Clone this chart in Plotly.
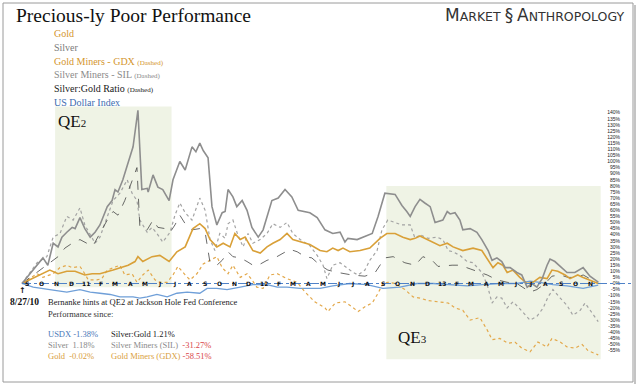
import pandas as pd
import plotly.graph_objects as go

# ---------------- data (days after 2010-08-27, % change since then) ----------------
BASE = pd.Timestamp("2010-08-27")

silver_day = [0, 43, 53, 64, 74, 82, 92, 103, 109, 119, 129, 140, 150, 160, 175, 185, 191, 197, 207, 218, 228, 238,
              246, 257, 259, 269, 279, 289, 302, 310, 324, 335, 349, 357, 365, 372, 382, 390, 400, 411, 417, 423,
              433, 441, 452, 462, 472, 485, 495, 513, 526, 540, 554, 567, 591, 606, 622, 638, 653, 663, 669, 688,
              700, 719, 731, 745, 766, 780, 790, 797, 807, 817, 827, 838, 848, 864, 873, 879, 889, 899, 905, 920,
              934, 944, 957, 965, 975, 985, 992, 1002, 1016, 1026, 1037, 1047, 1057, 1068, 1078, 1084, 1094, 1105,
              1119, 1135, 1152, 1166, 1183]
silver_pct = [0, 21, 15, 33, 30, 38, 42, 46, 45, 54, 45, 38, 42, 48, 63, 68, 77, 75, 85, 99, 112, 142,
              77, 78, 75, 89, 79, 77, 68, 85, 100, 93, 112, 108, 115, 109, 103, 63, 48, 58, 59, 77,
              71, 63, 68, 60, 46, 38, 44, 68, 70, 77, 71, 60, 58, 54, 44, 41, 42, 34, 37, 36,
              38, 41, 55, 74, 73, 64, 59, 55, 63, 69, 66, 63, 50, 52, 59, 57, 58, 52, 44, 45,
              42, 36, 27, 19, 21, 18, 13, 13, 9, 7, -3, 0, -3, 4, 15, 20, 18, 14,
              9, 9, 13, 6, 1.18]

gold_day = [0, 37, 57, 74, 92, 109, 129, 144, 160, 187, 207, 218, 232, 238, 248, 267, 283, 302, 318, 335, 351,
            365, 376, 386, 400, 413, 427, 437, 448, 458, 474, 489, 503, 515, 530, 544, 556, 575, 591, 612, 626,
            638, 649, 659, 673, 694, 714, 735, 749, 766, 782, 797, 807, 817, 827, 844, 858, 873, 885, 905, 926,
            944, 957, 967, 977, 987, 996, 1008, 1022, 1037, 1049, 1063, 1078, 1088, 1100, 1115, 1125, 1141,
            1152, 1166, 1183]
gold_pct = [0, 7, 11, 8, 10, 10, 7, 8, 8, 11, 14, 15, 18, 22, 18, 22, 23, 18, 26, 30, 45,
            49, 45, 36, 30, 33, 30, 41, 36, 38, 27, 25, 30, 33, 36, 41, 36, 34, 32, 27, 26,
            29, 27, 29, 26, 27, 29, 37, 41, 41, 38, 36, 37, 39, 37, 34, 31, 33, 30, 27, 29,
            27, 19, 13, 17, 15, 9, 11, 5, 0, 1, 5, 4, 11, 10, 7, 4, 7,
            5, 3, -0.02]

gdx_day = [0, 31, 43, 64, 78, 92, 103, 119, 129, 136, 154, 164, 175, 187, 201, 211, 226, 236, 248, 259, 273,
           283, 298, 310, 320, 335, 345, 359, 372, 386, 400, 411, 423, 433, 448, 462, 472, 482, 495, 509, 524,
           544, 565, 581, 601, 622, 628, 643, 663, 677, 690, 704, 719, 731, 741, 751, 766, 786, 803, 817, 834,
           854, 875, 889, 905, 920, 940, 955, 965, 981, 998, 1012, 1026, 1043, 1059, 1078, 1088, 1105, 1119,
           1135, 1150, 1162, 1183]
gdx_pct = [0, 8, 5, 8, 13, 15, 13, 14, 8, 3, 3, 4, 11, 13, 15, 7, 8, 1, 7, 11, 3,
           1, 1, 7, 14, 7, 3, 8, 16, 19, 22, 13, 8, 15, 5, 8, 3, -3, -4, 7, 8,
           4, 1, -7, -15, -20, -23, -16, -15, -19, -23, -19, -16, -8, 0, 1, 0, -5, -11, -12, -14,
           -15, -16, -20, -22, -30, -28, -38, -46, -45, -49, -48, -53, -56, -48, -52, -45, -48, -52,
           -53, -50, -55, -58.51]

sil_day = [0, 31, 51, 64, 78, 92, 105, 119, 129, 140, 150, 160, 175, 187, 201, 216, 226, 236, 242, 257, 267,
           277, 289, 304, 314, 324, 335, 349, 365, 376, 386, 396, 406, 417, 423, 433, 443, 454, 464, 474, 489,
           503, 515, 530, 544, 556, 571, 591, 606, 618, 626, 638, 653, 667, 680, 690, 704, 714, 729, 739, 751,
           766, 780, 797, 807, 817, 834, 852, 864, 875, 885, 899, 914, 926, 944, 955, 965, 975, 985, 996, 1008,
           1018, 1029, 1043, 1057, 1070, 1080, 1090, 1105, 1119, 1131, 1146, 1156, 1170, 1183]
sil_pct = [0, 17, 22, 38, 41, 55, 52, 62, 48, 40, 33, 38, 55, 68, 74, 85, 74, 68, 52, 42, 46,
           41, 34, 42, 56, 66, 58, 52, 70, 60, 36, 27, 41, 37, 49, 52, 40, 30, 41, 33, 36,
           41, 49, 46, 50, 41, 36, 31, 23, 15, 4, 15, 17, 13, 9, 7, 11, 19, 27, 44, 52,
           50, 48, 48, 37, 40, 37, 38, 36, 27, 26, 23, 18, 17, 9, -1, -16, -11, -12, -20, -15,
           -19, -24, -30, -27, -20, -11, -5, -12, -18, -26, -22, -16, -24, -31.27]

ratio_day = [0, 37, 57, 74, 88, 103, 119, 133, 146, 160, 175, 187, 197, 211, 226, 236, 242, 257, 269, 279, 294,
             304, 314, 324, 335, 349, 365, 376, 386, 400, 411, 423, 433, 448, 462, 474, 485, 503, 519, 536, 550,
             565, 581, 595, 612, 628, 649, 677, 704, 725, 745, 762, 786, 807, 823, 842, 854, 883, 899, 920, 940,
             955, 975, 996, 1016, 1033, 1043, 1057, 1074, 1088, 1105, 1121, 1139, 1152, 1170, 1183]
ratio_pct = [0, 11, 17, 22, 29, 33, 36, 33, 31, 41, 52, 59, 56, 68, 85, 95, 46, 44, 52, 46, 45,
             42, 48, 56, 49, 44, 45, 42, 17, 15, 19, 26, 22, 21, 18, 15, 15, 19, 21, 25, 28,
             26, 22, 21, 15, 11, 9, 7, 6, 9, 21, 22, 17, 15, 22, 19, 14, 15, 15, 12, 9,
             7, 3, 1, 0, -4, -7, -5, 0, 6, 7, 5, 5, 7, 3, 1.21]

usd_day = [0, 23, 57, 92, 119, 140, 160, 181, 201, 228, 242, 257, 277, 298, 318, 339, 365, 380, 400, 421, 448,
           474, 503, 524, 544, 571, 597, 612, 638, 673, 708, 741, 776, 811, 844, 879, 914, 946, 981, 1016, 1043,
           1063, 1090, 1119, 1152, 1183]
usd_pct = [0, -3, -5, -7, -5, -7, -8, -9, -11, -11, -12, -11, -9, -11, -8, -7, -8, -4, -4, -5, -3,
           -1, -1, -3, -3, -4, -4, -4, -2, 0, -1, -4, -3, 0, 0, -1, -2, -1, 0, 0, 2,
           1, -1, -2, -4, -1.38]

month_labels = ["S", "O", "N", "D", "11", "F", "M", "A", "M", "J", "J", "A", "S", "O", "N", "D", "12", "F", "M", "A",
                "M", "J", "J", "A", "S", "O", "N", "D", "13", "F", "M", "A", "M", "J", "J", "A", "S", "O", "N"]
month_starts = pd.date_range("2010-09-01", periods=len(month_labels), freq="MS")

ytick_vals = list(range(-55, 145, 5))
ytick_text = [f"{v}%" for v in ytick_vals]

qe2_start, qe2_end = "2010-11-03", "2011-06-30"
qe3_start, qe3_end = "2012-09-13", "2013-11-27"

legend_items = [
    ("Gold", "", "#d4962e"),
    ("Silver", "", "#7a7a7a"),
    ("Gold Miners - GDX ", "(Dashed)", "#d4962e"),
    ("Silver Miners - SIL ", "(Dashed)", "#8a8a8a"),
    ("Silver:Gold Ratio ", "(Dashed)", "#1a1a1a"),
    ("US Dollar Index", "", "#3d6cb0"),
]

# ---------------- figure ----------------
W, H = 640, 384
ML, MR = 0, 17
PW = W - ML - MR


def px(x):
    return x / PW


def py(y):
    return 1 - y / H


def dates(d):
    return BASE + pd.to_timedelta(d, unit="D")


fig = go.Figure()

GOLD = "#d9a038"
series = [
    (usd_day, usd_pct, "#6f9fd8", 1.3, "solid"),
    (gdx_day, gdx_pct, "#e3a84a", 1.2, "dot"),
    (sil_day, sil_pct, "#a3a3a3", 1.2, "dot"),
    (ratio_day, ratio_pct, "#444444", 0.8, "dash"),
    (gold_day, gold_pct, GOLD, 1.6, "solid"),
    (silver_day, silver_pct, "#8e8e8e", 1.6, "solid"),
]
for d, v, c, w, dash in series:
    fig.add_trace(go.Scatter(x=dates(d), y=v, mode="lines",
                             line=dict(color=c, width=w, dash=dash), showlegend=False,
                             hoverinfo="skip"))

shapes = []
# QE shading
shapes.append(dict(type="rect", xref="x", yref="y", x0=qe2_start, x1=qe2_end, y0=-3, y1=145,
                   fillcolor="#eff3e5", line=dict(width=0), layer="below"))
shapes.append(dict(type="rect", xref="x", yref="y", x0=qe3_start, x1=qe3_end, y0=-62, y1=80,
                   fillcolor="#eff3e5", line=dict(width=0), layer="below"))
# zero dash-dot line
shapes.append(dict(type="line", xref="paper", yref="y", x0=px(22), x1=px(632), y0=0, y1=0,
                   line=dict(color="#4f82c8", width=1, dash="dashdot"), layer="above"))
# frame
shapes.append(dict(type="rect", xref="paper", yref="paper", x0=px(3), x1=px(633), y0=py(3), y1=py(382),
                   line=dict(color="#9a9a9a", width=1), layer="above"))
shapes.append(dict(type="line", xref="paper", yref="paper", x0=px(635), x1=px(635), y0=py(5), y1=py(384),
                   line=dict(color="#c4c4c4", width=2), layer="above"))

ann = []
SERIF = "Liberation Serif"
ann.append(dict(text="Precious-ly Poor Performance", x=px(14), y=py(15), xanchor="left", yanchor="middle",
                font=dict(family=SERIF, size=19.5, color="#111111")))
for i, (main, small, col) in enumerate(legend_items):
    t = main + (f"<span style='font-size:7px'>{small}</span>" if small else "")
    ann.append(dict(text=t, x=px(52), y=py(34 + 13.6 * i), xanchor="left", yanchor="middle",
                    font=dict(family=SERIF, size=10, color=col)))
ann.append(dict(text="<span style='font-size:17px'>M</span>ARKET <span style='font-size:17px'>§</span> "
                     "<span style='font-size:17px'>A</span>NTHROPOLOGY",
                x=px(626), y=py(15), xanchor="right", yanchor="middle",
                font=dict(family="DejaVu Sans", size=12.5, color="#333333")))
ann.append(dict(text="QE<span style='font-size:11px'>2</span>", x=px(56), y=py(122), xanchor="left",
                yanchor="middle", font=dict(family=SERIF, size=17, color="#111111")))
ann.append(dict(text="QE<span style='font-size:11px'>3</span>", x=px(396), y=py(337), xanchor="left",
                yanchor="middle", font=dict(family=SERIF, size=17, color="#111111")))
# month letters along the zero line
for lab, ms in zip(month_labels, month_starts):
    ann.append(dict(text=f"<b>{lab}</b>", x=ms + pd.Timedelta(days=5), y=0, xref="x", yref="y",
                    xanchor="center", yanchor="middle", showarrow=False,
                    font=dict(family="DejaVu Sans", size=6, color="#111111")))
ann.append(dict(text="<b>↑</b>", x=px(22), y=py(290), xanchor="center", yanchor="middle",
                font=dict(family="DejaVu Sans", size=8, color="#111111")))
ann.append(dict(text="<b>8/27/10</b>", x=px(8), y=py(302), xanchor="left", yanchor="middle",
                font=dict(family=SERIF, size=9.5, color="#111111")))
ann.append(dict(text="Bernanke hints at QE2 at Jackson Hole Fed Conference", x=px(46), y=py(302),
                xanchor="left", yanchor="middle", font=dict(family=SERIF, size=8.5, color="#222222")))
ann.append(dict(text="Performance since:", x=px(46), y=py(314), xanchor="left", yanchor="middle",
                font=dict(family=SERIF, size=8.5, color="#333333")))
RED = "#d9454a"
rows = [
    ("USDX -1.38%", "#4a78b8", "Silver:Gold 1.21%", "#222222"),
    ("Silver  1.18%", "#888888", f"Silver Miners (SIL)  <span style='color:{RED}'>-31.27%</span>", "#8a8a8a"),
    ("Gold  -0.02%", "#d9a040", f"Gold Miners (GDX) <span style='color:{RED}'>-58.51%</span>", "#d9a040"),
]
for i, (t1, c1, t2, c2) in enumerate(rows):
    yy = py(334 + 11 * i)
    ann.append(dict(text=t1, x=px(46), y=yy, xanchor="left", yanchor="middle",
                    font=dict(family=SERIF, size=8.5, color=c1)))
    ann.append(dict(text=t2, x=px(109), y=yy, xanchor="left", yanchor="middle",
                    font=dict(family=SERIF, size=8.5, color=c2)))

for a in ann:
    a.setdefault("xref", "paper")
    a.setdefault("yref", "paper")
    a.setdefault("showarrow", False)

x_lo = BASE - pd.Timedelta(days=22 * 2.053)
x_hi = BASE + pd.Timedelta(days=(PW - 22) * 2.053)

fig.update_layout(
    width=W, height=H,
    margin=dict(l=ML, r=MR, t=0, b=0),
    paper_bgcolor="white", plot_bgcolor="white",
    showlegend=False,
    shapes=shapes, annotations=ann,
    xaxis=dict(type="date", range=[x_lo, x_hi], visible=False),
    yaxis=dict(range=[(283.5 - H) / 1.22, 283.5 / 1.22], side="right", tickvals=ytick_vals,
               ticktext=ytick_text, ticklabelposition="inside", showgrid=False, zeroline=False,
               showline=False, ticks="", tickfont=dict(family="Liberation Sans", size=5, color="#222222")),
)

fig.write_html("out.html", config={"displayModeBar": False},
               post_script="document.body.style.margin='0px';document.body.style.overflow='hidden';")
